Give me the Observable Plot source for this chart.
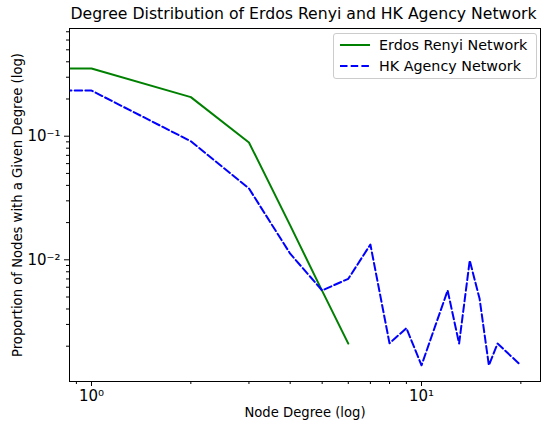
<!DOCTYPE html>
<html><head><meta charset="utf-8">
<script src="https://cdn.jsdelivr.net/npm/d3@7"></script>
<script src="https://cdn.jsdelivr.net/npm/@observablehq/plot@0.6"></script>
<style>
body{margin:0;background:#fff;font-family:"DejaVu Sans",sans-serif;}
#wrap{position:relative;width:542px;height:423px;overflow:hidden;background:#fff}
#title{position:absolute;left:0;top:4px;width:607px;text-align:center;font-size:15.7px;white-space:nowrap;color:#000}
#legend{position:absolute;left:333px;top:33px;width:202px;height:44px;border:1px solid #cccccc;border-radius:3px;background:rgba(255,255,255,0.8);font-size:14.3px;color:#000}
.row{position:absolute;left:6px;height:20px;display:flex;align-items:center}
.row svg{margin-right:9px}
</style></head>
<body>
<div id="wrap">
<div id="title">Degree Distribution of Erdos Renyi and HK Agency Network</div>
<div id="chart"></div>
<div id="legend"></div>
</div>
<script>
// Data. Degree 0 is clipped off the log axis, as in the original.
const erDegrees = [0, 1, 2, 3, 4, 5, 6];
const erProportions = [0.36, 0.353, 0.207, 0.089, 0.019, 0.0056, 0.0021];
const hkDegrees = [0, 1, 2, 3, 4, 5, 6, 7, 8, 9, 10, 12, 13, 14, 15, 16, 17, 20];
const hkProportions = [0.23, 0.234, 0.091, 0.0378, 0.0112, 0.00565, 0.00702, 0.0133, 0.00211, 0.0028, 0.0014, 0.00565, 0.0021, 0.00987, 0.00483, 0.0014, 0.0021, 0.0014];
const seriesNames = ["Erdos Renyi Network", "HK Agency Network"];
const seriesColors = ["green", "blue"];
const xMajorTicks = [1, 10];
const xMajorLabels = ["10\u2070", "10\u00b9"];
const yMajorTicks = [0.01, 0.1];
const yMajorLabels = ["10\u207b\u00b2", "10\u207b\u00b9"];
const xMinorTicks = [0.9, 2, 3, 4, 5, 6, 7, 8, 9, 20];
const yMinorTicks = [0.002,0.003,0.004,0.005,0.006,0.007,0.008,0.009,0.02,0.03,0.04,0.05,0.06,0.07,0.08,0.09,0.2,0.3,0.4,0.5,0.6,0.7];
const xLabel = "Node Degree (log)";
const yLabel = "Proportion of Nodes with a Given Degree (log)";

const er = erDegrees.map((d, i) => ({degree: d, p: erProportions[i]}));
const hk = hkDegrees.map((d, i) => ({degree: d, p: hkProportions[i]}));
const clipX = d => Math.max(d.degree, 1e-9);

const chart = Plot.plot({
  width: 542, height: 423,
  marginLeft: 69, marginRight: 2, marginTop: 28, marginBottom: 42,
  style: {fontSize: "14px", fontFamily: "DejaVu Sans, sans-serif", background: "transparent", color: "#000"},
  x: {type: "log", domain: [0.8577, 22.94]},
  y: {type: "log", domain: [0.001036, 0.7437]},
  marks: [
    Plot.line(er, {x: clipX, y: "p", stroke: seriesColors[0], strokeWidth: 2, clip: true}),
    Plot.line(hk, {x: clipX, y: "p", stroke: seriesColors[1], strokeWidth: 2, strokeDasharray: "7.5,3.2", clip: true}),
    Plot.frame({stroke: "#000", strokeWidth: 1}),
    Plot.axisX({ticks: xMajorTicks, tickSize: 5, tickPadding: 4, fontSize: 15, tickFormat: d => xMajorLabels[xMajorTicks.indexOf(d)], label: null}),
    Plot.axisX({ticks: xMinorTicks, tickSize: 3, fill: "none", label: null}),
    Plot.axisY({ticks: yMajorTicks, tickSize: 5, tickPadding: 4, fontSize: 15, tickFormat: d => yMajorLabels[yMajorTicks.indexOf(d)], label: null}),
    Plot.axisY({ticks: yMinorTicks, tickSize: 3, fill: "none", label: null}),
    Plot.text([xLabel], {text: d => d, frameAnchor: "bottom", dy: 31, lineAnchor: "middle", textAnchor: "middle", fontSize: 13.2}),
    Plot.text([yLabel], {text: d => d, frameAnchor: "left", rotate: -90, dx: -52, lineAnchor: "middle", textAnchor: "middle", fontSize: 13.2})
  ]
});
document.getElementById("chart").appendChild(chart);

const legend = document.getElementById("legend");
seriesNames.forEach((name, i) => {
  const row = document.createElement("div");
  row.className = "row";
  row.style.top = (i === 0 ? 1 : 22) + "px";
  const dash = i === 1 ? 'stroke-dasharray="7.5,3.2"' : "";
  row.innerHTML = `<svg width="30" height="10"><line x1="0" y1="5" x2="30" y2="5" stroke="${seriesColors[i]}" stroke-width="2" ${dash}/></svg><span>${name}</span>`;
  legend.appendChild(row);
});
</script>
</body></html>
